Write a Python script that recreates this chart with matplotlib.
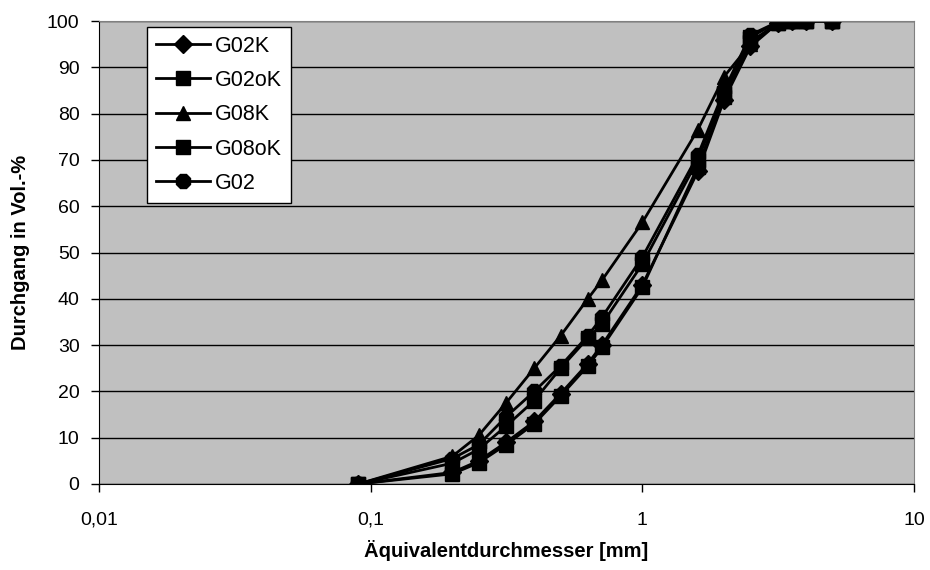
import matplotlib.pyplot as plt
from matplotlib.ticker import FixedLocator, NullLocator

plt.rcParams['font.family'] = ['Liberation Sans', 'DejaVu Sans']

# Siebweiten in mm
d = [0.09, 0.2, 0.25, 0.315, 0.4, 0.5, 0.63, 0.71, 1.0, 1.6, 2.0, 2.5, 3.15, 3.55, 4.0, 5.0]

# Durchgang in Vol.-%
g02k = [0, 2.5, 5.0, 9.0, 13.5, 19.5, 26.0, 30.0, 43.0, 67.5, 83.0, 94.5, 99.5, 100, 100, 100]
g02ok = [0, 2.2, 4.6, 8.5, 13.0, 19.0, 25.5, 29.5, 42.5, 68.5, 83.5, 95.5, 99.5, 100, 100, 100]
g08k = [0, 6.0, 10.5, 17.5, 25.0, 32.0, 40.0, 44.0, 56.5, 76.5, 88.0, 95.0, 99.5, 100, 100, 100]
g08ok = [0, 4.5, 7.5, 12.5, 18.0, 25.0, 31.5, 34.5, 47.5, 70.0, 84.5, 96.5, 99.8, 100, 100, 100]
g02 = [0, 5.5, 8.5, 14.5, 20.0, 25.5, 32.0, 36.0, 49.0, 71.0, 85.0, 97.0, 99.8, 100, 100, 100]

series = [("G02K", g02k, "D", 9.5), ("G02oK", g02ok, "s", 10), ("G08K", g08k, "^", 10.5),
          ("G08oK", g08ok, "s", 10), ("G02", g02, "8", 11)]

fig = plt.figure(figsize=(9.3, 5.7), dpi=100)
ax = fig.add_axes([99/930, 1-484/570, (914-99)/930, (484-21)/570])
ax.set_facecolor("#c0c0c0")

for name, vals, m, ms in series:
    ax.plot(d, vals, marker=m, color="black", lw=2, ms=ms, label=name)

ax.set_xscale("log")
ax.set_xlim(0.01, 10)
ax.set_ylim(0, 100)
ax.xaxis.set_major_locator(FixedLocator([0.01, 0.1, 1, 10]))
ax.xaxis.set_minor_locator(NullLocator())
ax.set_xticklabels(["0,01", "0,1", "1", "10"])
ax.set_yticks(range(0, 101, 10))
ax.yaxis.grid(True, color="black", lw=1)
ax.set_axisbelow(True)
ax.tick_params(labelsize=14, length=6, width=1)
ax.tick_params(axis="y", pad=8)
ax.tick_params(axis="x", pad=14)

for s in ["top", "right"]:
    ax.spines[s].set_color("#808080")
ax.spines["left"].set_color("black")
ax.spines["bottom"].set_color("black")

ax.set_xlabel("Äquivalentdurchmesser [mm]", fontsize=14.5, fontweight="bold", labelpad=8)
ax.set_ylabel("Durchgang in Vol.-%", fontsize=14.5, fontweight="bold", labelpad=12)

leg = ax.legend(loc="upper left", bbox_to_anchor=(0.059, 0.987), fontsize=15.5,
                frameon=True, fancybox=False, edgecolor="black", framealpha=1,
                handlelength=2.5, borderpad=0.4, labelspacing=0.62, handletextpad=0.25,
                borderaxespad=0)
leg.get_frame().set_linewidth(1)

fig.savefig("out.png", dpi=100)
